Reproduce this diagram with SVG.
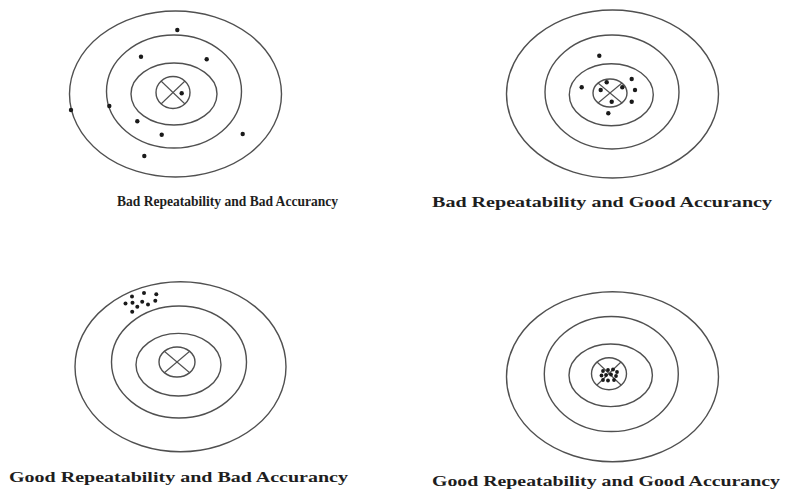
<svg xmlns="http://www.w3.org/2000/svg" width="792" height="496" viewBox="0 0 792 496">
<style>
.ring{fill:none;stroke:#505050;stroke-width:1.4}
.cross{stroke:#505050;stroke-width:1.1}
.dot{fill:#1a1a1a}
.lbl{font-family:"Liberation Serif","Times New Roman",serif;font-weight:bold;fill:#1e1e1e}
</style>
<rect width="792" height="496" fill="#ffffff"/>

<g id="target-bad-bad">
<ellipse class="ring" cx="175.5" cy="94" rx="106" ry="83"/>
<ellipse class="ring" cx="174" cy="91.5" rx="67.5" ry="56.5"/>
<ellipse class="ring" cx="174" cy="94" rx="43" ry="31"/>
<ellipse class="ring" cx="173" cy="92.5" rx="17" ry="16"/>
<line class="cross" x1="161" y1="81" x2="185" y2="104"/>
<line class="cross" x1="185" y1="81" x2="161" y2="104"/>
<circle class="dot" cx="177.3" cy="30" r="2.2"/>
<circle class="dot" cx="141" cy="56.7" r="2.2"/>
<circle class="dot" cx="206.7" cy="59.3" r="2.2"/>
<circle class="dot" cx="181.7" cy="93.3" r="2.2"/>
<circle class="dot" cx="71" cy="110" r="2.2"/>
<circle class="dot" cx="109.3" cy="106" r="2.2"/>
<circle class="dot" cx="137.3" cy="121.3" r="2.2"/>
<circle class="dot" cx="161.7" cy="134.7" r="2.2"/>
<circle class="dot" cx="242.7" cy="134" r="2.2"/>
<circle class="dot" cx="144.3" cy="156" r="2.2"/>
<text class="lbl" x="117" y="206" font-size="14" textLength="221" lengthAdjust="spacingAndGlyphs">Bad Repeatability and Bad Accurancy</text>
</g>

<g id="target-bad-good">
<ellipse class="ring" cx="612.5" cy="94" rx="106" ry="84"/>
<ellipse class="ring" cx="612" cy="92" rx="67" ry="57"/>
<ellipse class="ring" cx="611.3" cy="94.7" rx="42" ry="31"/>
<ellipse class="ring" cx="610" cy="93" rx="17" ry="14"/>
<line class="cross" x1="598" y1="83" x2="622" y2="103"/>
<line class="cross" x1="622" y1="83" x2="598" y2="103"/>
<circle class="dot" cx="599.3" cy="55.7" r="2.2"/>
<circle class="dot" cx="581.7" cy="87.3" r="2.2"/>
<circle class="dot" cx="606.7" cy="82.3" r="2.2"/>
<circle class="dot" cx="600.7" cy="90" r="2.2"/>
<circle class="dot" cx="622.3" cy="87.3" r="2.2"/>
<circle class="dot" cx="631.7" cy="79" r="2.2"/>
<circle class="dot" cx="635" cy="90" r="2.2"/>
<circle class="dot" cx="611.7" cy="101.7" r="2.2"/>
<circle class="dot" cx="631.7" cy="101.7" r="2.2"/>
<circle class="dot" cx="608.3" cy="113.3" r="2.2"/>
<text class="lbl" x="432" y="207" font-size="14" textLength="340" lengthAdjust="spacingAndGlyphs">Bad Repeatability and Good Accurancy</text>
</g>

<g id="target-good-bad">
<ellipse class="ring" cx="180.5" cy="366.7" rx="105.5" ry="85"/>
<ellipse class="ring" cx="179" cy="362" rx="67.5" ry="56"/>
<ellipse class="ring" cx="178.5" cy="364.7" rx="42.5" ry="31.3"/>
<ellipse class="ring" cx="177" cy="362" rx="18" ry="15"/>
<line class="cross" x1="164" y1="351" x2="190" y2="373"/>
<line class="cross" x1="190" y1="351" x2="164" y2="373"/>
<circle class="dot" cx="132" cy="296.5" r="2"/>
<circle class="dot" cx="144" cy="293" r="2"/>
<circle class="dot" cx="156.3" cy="294.2" r="2"/>
<circle class="dot" cx="125.5" cy="303.6" r="2"/>
<circle class="dot" cx="132.5" cy="302.7" r="2"/>
<circle class="dot" cx="142.2" cy="301.7" r="2"/>
<circle class="dot" cx="148" cy="304.6" r="2"/>
<circle class="dot" cx="155.3" cy="300.7" r="2"/>
<circle class="dot" cx="137.3" cy="306.7" r="2"/>
<circle class="dot" cx="132.2" cy="311.8" r="2"/>
<text class="lbl" x="9" y="482" font-size="15" textLength="339" lengthAdjust="spacingAndGlyphs">Good Repeatability and Bad Accurancy</text>
</g>

<g id="target-good-good">
<ellipse class="ring" cx="612.5" cy="376.7" rx="106" ry="85"/>
<ellipse class="ring" cx="611.3" cy="374" rx="67" ry="57.5"/>
<ellipse class="ring" cx="610.7" cy="375.3" rx="41.7" ry="31.3"/>
<ellipse class="ring" cx="609" cy="373.7" rx="17.5" ry="16"/>
<line class="cross" x1="597" y1="362" x2="621" y2="385"/>
<line class="cross" x1="621" y1="362" x2="597" y2="385"/>
<circle class="dot" cx="603" cy="371" r="1.9"/>
<circle class="dot" cx="608" cy="370" r="1.9"/>
<circle class="dot" cx="613" cy="369.5" r="1.9"/>
<circle class="dot" cx="617" cy="372" r="1.9"/>
<circle class="dot" cx="601.5" cy="375.5" r="1.9"/>
<circle class="dot" cx="606" cy="375" r="1.9"/>
<circle class="dot" cx="611" cy="374.5" r="1.9"/>
<circle class="dot" cx="616" cy="376" r="1.9"/>
<circle class="dot" cx="603" cy="380" r="1.9"/>
<circle class="dot" cx="608" cy="380.5" r="1.9"/>
<circle class="dot" cx="614" cy="380" r="1.9"/>
<text class="lbl" x="432" y="486" font-size="15" textLength="348" lengthAdjust="spacingAndGlyphs">Good Repeatability and Good Accurancy</text>
</g>
</svg>
